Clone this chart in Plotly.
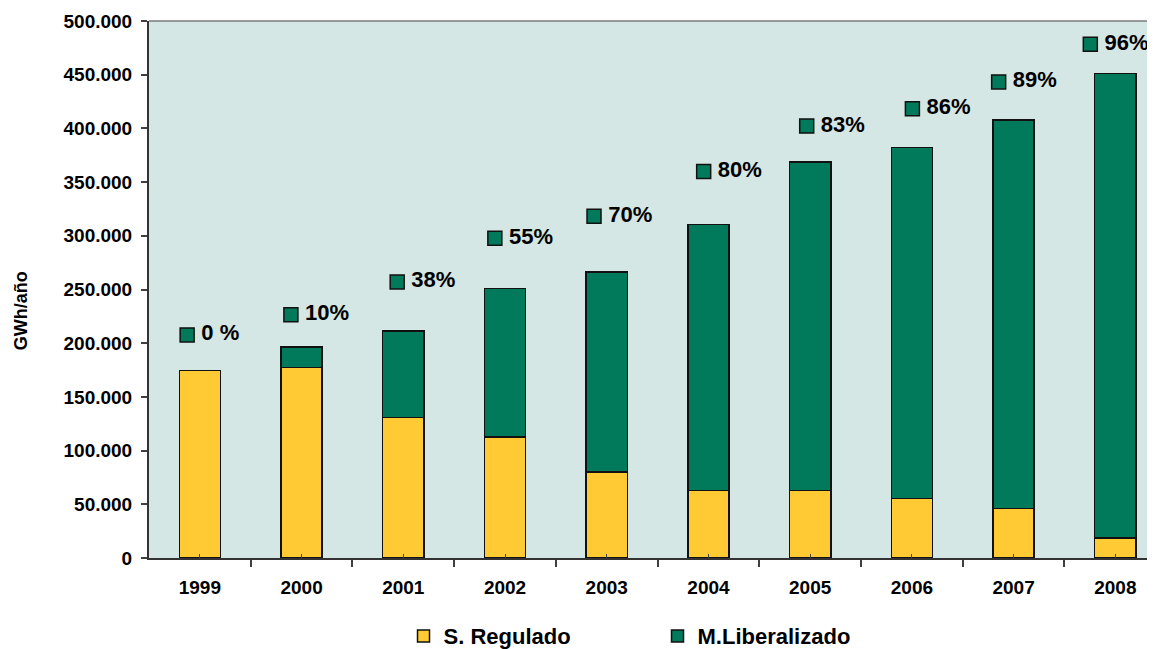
import plotly.graph_objects as go

years = ["1999", "2000", "2001", "2002", "2003", "2004", "2005", "2006", "2007", "2008"]
regulado = [174500, 177300, 130600, 112900, 80100, 63000, 63000, 55300, 46000, 18800]
totales = [174500, 196500, 211400, 251100, 266500, 310600, 368500, 382400, 407800, 451200]
liberalizado = [t - r for t, r in zip(totales, regulado)]
pct_labels = ["0 %", "10%", "38%", "55%", "70%", "80%", "83%", "86%", "89%", "96%"]
# vertical anchor (GWh) of each percentage label, as placed in the original chart
pct_label_pos = [207700, 226500, 257000, 297700, 318100, 359900, 402200, 418200, 443300, 478300]
# horizontal nudge of each label relative to its bar (in category units)
pct_label_dx = [-0.125, -0.105, -0.06, -0.10, -0.125, -0.047, -0.034, 0.005, -0.147, -0.246]

YELLOW = "#FFCA33"
GREEN = "#007A5A"
BG = "#D5E7E4"
FONT = "Arial, Liberation Sans, sans-serif"

idx = list(range(len(years)))

fig = go.Figure()
fig.add_trace(go.Bar(
    x=idx, y=regulado, name="S. Regulado", width=0.405,
    marker=dict(color=YELLOW, line=dict(color="#111111", width=1.5)),
))
fig.add_trace(go.Bar(
    x=idx, y=liberalizado, name="M.Liberalizado", width=0.405,
    marker=dict(color=GREEN, line=dict(color="#111111", width=1.5)),
))
fig.add_trace(go.Scatter(
    x=[i + d for i, d in zip(idx, pct_label_dx)], y=pct_label_pos,
    mode="markers+text", text=["\u2009" + t for t in pct_labels], textposition="middle right",
    textfont=dict(family=FONT, size=22, color="#000000", weight="bold"),
    marker=dict(symbol="square", size=14, color=GREEN, line=dict(color="#111111", width=1.5)),
    showlegend=False, cliponaxis=False, hoverinfo="skip",
))

fig.update_layout(
    width=1147, height=641,
    barmode="stack",
    separators=",.",
    paper_bgcolor="white",
    plot_bgcolor=BG,
    margin=dict(l=141, r=0, t=12.5, b=90.5, autoexpand=False),
    font=dict(family=FONT, size=18, color="#000000"),
    showlegend=True,
    legend=dict(
        orientation="h", x=0.253, xanchor="left", y=-0.1454, yanchor="middle",
        font=dict(family=FONT, size=22, color="#000000", weight="bold"),
        entrywidth=209, entrywidthmode="pixels", traceorder="normal",
        bgcolor="rgba(0,0,0,0)",
    ),
    shapes=[dict(type="line", xref="paper", yref="paper", x0=0, x1=1, y0=1, y1=1,
                 line=dict(color="#7a7a7a", width=1.5))],
    annotations=[dict(text="<b>GWh/año</b>", textangle=-90, xref="paper", yref="paper",
                      x=-0.127, y=0.46, showarrow=False, xanchor="center", yanchor="middle",
                      font=dict(family=FONT, size=18, color="#000000"))],
)

fig.update_xaxes(
    range=[-0.5, 9.39], tickmode="array", tickvals=idx, ticktext=years, automargin=False,
    tickfont=dict(family=FONT, size=19, color="#000000", weight="bold"),
    ticks="inside", ticklen=4, tickcolor="#404040", tickwidth=1, ticklabelstandoff=11,
    minor=dict(tick0=0.5, dtick=1, ticks="outside", ticklen=7, tickcolor="#404040", tickwidth=1.5),
    showline=True, linecolor="#333333", linewidth=2, showgrid=False, zeroline=False,
)
fig.update_yaxes(
    range=[0, 500000], dtick=50000, tickformat=",d", automargin=False,
    tickfont=dict(family=FONT, size=19, color="#000000", weight="bold"),
    ticks="outside", ticklen=6, tickcolor="#404040", tickwidth=1.5, ticklabelstandoff=5,
    showline=True, linecolor="#333333", linewidth=2, showgrid=False, zeroline=False,
)

fig.write_html("out.html")
